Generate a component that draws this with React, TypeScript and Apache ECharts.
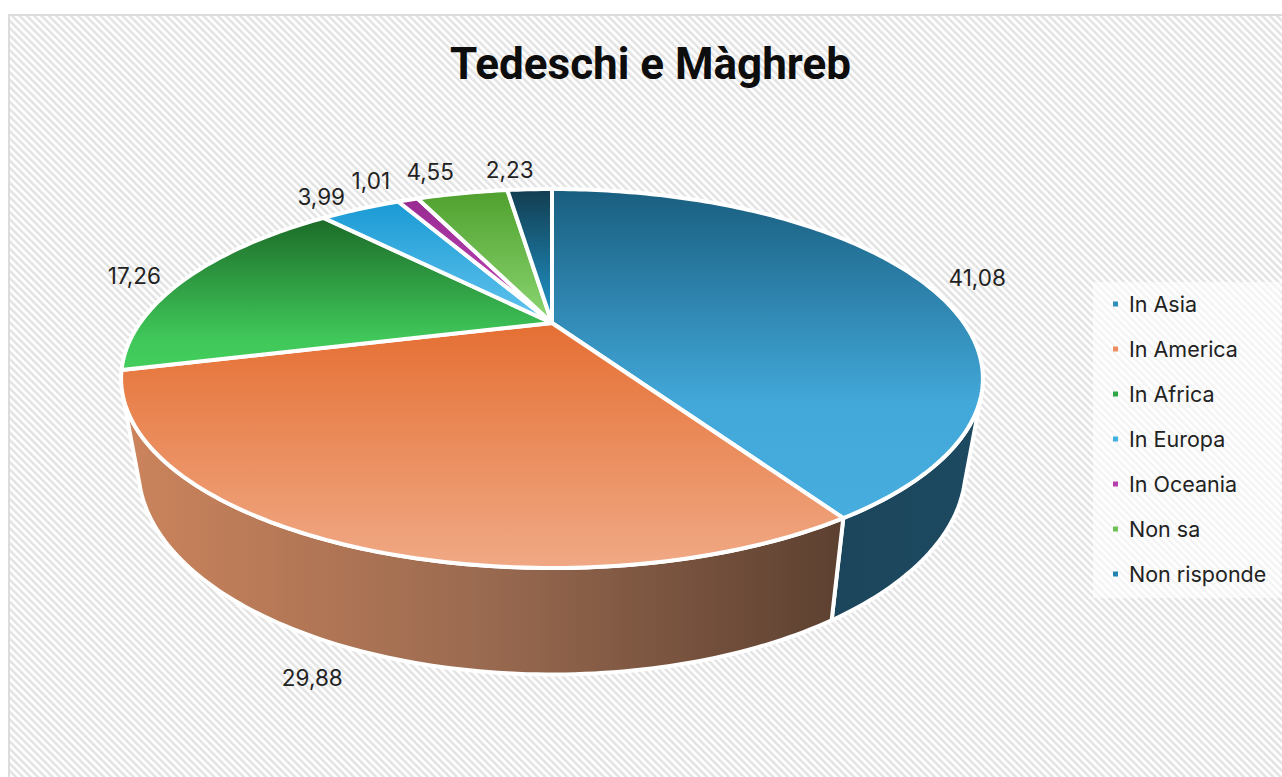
import React, { useEffect, useRef } from "react";
import * as echarts from "echarts";

const categories = ["In Asia", "In America", "In Africa", "In Europa", "In Oceania", "Non sa", "Non risponde"];
const values = [41.08, 29.88, 17.26, 3.99, 1.01, 4.55, 2.23];
const legendColors = ["#2F8FB9", "#EE8D5F", "#2DA646", "#3FB0E3", "#B83EB0", "#6FC053", "#2283B0"];
const topStops: [number, string][][] = [
  [[0, "#195E80"], [0.65, "#42A8D9"], [1, "#46ADDE"]],
  [[0, "#E56F33"], [1, "#F0A985"]],
  [[0, "#1C6B28"], [0.8, "#40C85A"], [1, "#43CE5C"]],
  [[0, "#1A9AD4"], [1, "#62C4EE"]],
  [[0, "#992A92"], [1, "#C04BB8"]],
  [[0, "#4FA02D"], [1, "#8CD673"]],
  [[0, "#123D50"], [1, "#2198CE"]],
];
const sideStops: [number, string][][] = [
  [[0, "#1B455B"], [1, "#1D4A61"]],
  [[0, "#CC845C"], [0.5, "#9A6A50"], [1, "#5C4030"]],
  [[0, "#14501E"], [1, "#14501E"]],
  [[0, "#14506E"], [1, "#14506E"]],
  [[0, "#6A1F66"], [1, "#6A1F66"]],
  [[0, "#3A7522"], [1, "#3A7522"]],
  [[0, "#0E3040"], [1, "#0E3040"]],
];
const labelOffsets: [number, number][] = [[59, -1], [-39, 29], [-53, -2], [-39, -12], [-37, -19], [-32, -22], [-20, -20]];

// projection of the pie disc (perspective, camera above the near edge)
const CX = 552, AY = 323, A = 412, B = 173.2, K = 0.293;
const total = values.reduce((a, b) => a + b, 0);

const topPoint = (deg: number): [number, number] => {
  const t = (deg * Math.PI) / 180;
  const u = Math.sin(t), v = -Math.cos(t), w = 1 - K * v;
  return [CX + (A * u) / w, AY + (B * v) / w];
};
const lowPoint = (deg: number): [number, number] => {
  const [x, y] = topPoint(deg);
  return [CX + 0.96 * (x - CX), 468 + 1.087 * (y - 378)];
};
const arc = (fn: (d: number) => [number, number], a: number, b: number) => {
  const out: [number, number][] = [];
  const n = Math.max(2, Math.ceil(Math.abs(b - a)));
  for (let i = 0; i <= n; i++) out.push(fn(a + ((b - a) * i) / n));
  return out;
};
const SIL = 111;
const grad = (stops: [number, string][], horizontal: boolean) => ({
  type: "linear", x: 0, y: 0, x2: horizontal ? 1 : 0, y2: horizontal ? 0 : 1,
  colorStops: stops.map(([offset, color]) => ({ offset, color })),
});

export default function App() {
  const ref = useRef<HTMLDivElement>(null);
  useEffect(() => {
    if (!ref.current) return;
    const chart = echarts.init(ref.current, undefined, { renderer: "svg" });
    let acc = 0;
    const ranges = values.map((v) => {
      const s = (acc / total) * 360;
      acc += v;
      return [s, (acc / total) * 360];
    });
    chart.setOption({
      animation: false,
      backgroundColor: "transparent",
      title: {
        text: "Tedeschi e Màghreb",
        left: 645.5,
        top: 36.5,
        textAlign: "center",
        textStyle: { fontFamily: "Roboto", fontWeight: 700, fontSize: 44, color: "#0d0d0d" },
      },
      legend: {
        orient: "vertical",
        left: 1093,
        top: 282,
        padding: [10, 15, 12, 20],
        backgroundColor: "rgba(255,255,255,0.6)",
        icon: "rect",
        itemWidth: 5,
        itemHeight: 5,
        itemGap: 21,
        data: categories,
        textStyle: { fontFamily: "Inter", fontSize: 21.5, lineHeight: 24, color: "#222", padding: [0, 0, 0, 6] },
      },
      series: categories.map((name, i) => ({
        type: "custom",
        name,
        coordinateSystem: "none",
        itemStyle: { color: legendColors[i] },
        data: [values[i]],
        silent: true,
        renderItem: () => {
          const [a, b] = ranges[i];
          const children: any[] = [];
          const sa = Math.max(a, SIL), sb = Math.min(b, 360 - SIL);
          if (sb > sa) {
            children.push({
              type: "polygon",
              z2: 1,
              shape: { points: [...arc(topPoint, sa, sb), ...arc(lowPoint, sb, sa)] },
              style: { fill: grad(sideStops[i], true), stroke: "#fff", lineWidth: 4, lineJoin: "round" },
            });
          }
          children.push({
            type: "polygon",
            z2: 5,
            shape: { points: [[CX, AY], ...arc(topPoint, a, b)] },
            style: { fill: grad(topStops[i], false), stroke: "#fff", lineWidth: 4, lineJoin: "round" },
          });
          const mid = topPoint((a + b) / 2);
          const base = (a + b) / 2 > SIL && (a + b) / 2 < 360 - SIL ? lowPoint((a + b) / 2) : mid;
          children.push({
            type: "text",
            z2: 10,
            x: base[0] + labelOffsets[i][0],
            y: base[1] + labelOffsets[i][1],
            style: {
              text: values[i].toFixed(2).replace(".", ","),
              fill: "#222",
              font: "22.5px Inter",
              align: "center",
              verticalAlign: "middle",
            },
          });
          return { type: "group", children };
        },
      })),
    });
    return () => chart.dispose();
  }, []);
  return (
    <div style={{ position: "fixed", left: 0, top: 0, width: 1282, height: 777, overflow: "hidden", background: "#fff" }}>
      <div
        style={{
          position: "absolute", left: 8, top: 14, width: 1400, height: 900, boxSizing: "border-box",
          border: "2px solid #dcdcdc",
          background: "repeating-linear-gradient(45deg, #e2e2e2 0px, #e6e6e6 1.6px, #f6f6f6 2.3px, #ffffff 2.9px, #ffffff 4.3px, #e2e2e2 5.2px)",
        }}
      />
      <div ref={ref} style={{ position: "absolute", left: 0, top: 0, width: 1282, height: 777 }} />
    </div>
  );
}
